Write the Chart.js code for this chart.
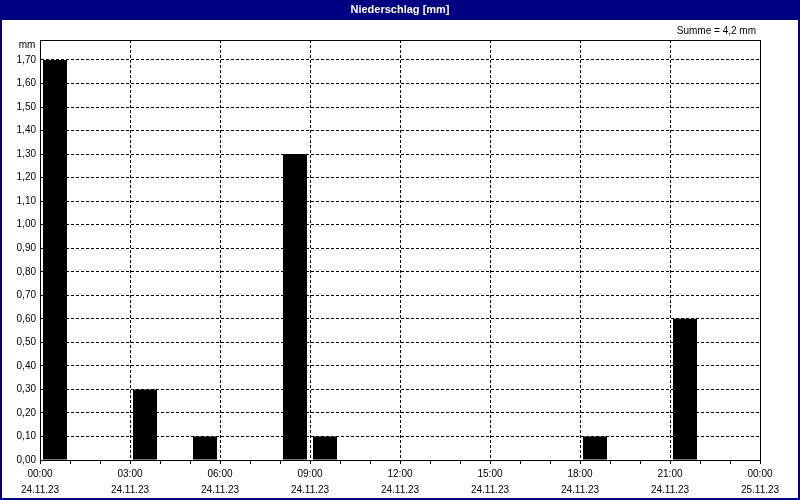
<!DOCTYPE html>
<html>
<head>
<meta charset="utf-8">
<script src="https://cdn.jsdelivr.net/npm/chart.js@4"></script>
<style>
  html, body { margin: 0; padding: 0; background: #fff; }
  #wrap { width: 800px; height: 500px; position: relative; }
</style>
</head>
<body>
<div id="wrap"><canvas id="rain" width="800" height="500"></canvas></div>
<script>
// hourly precipitation, 24.11.23 00:00 .. 25.11.23 00:00
const hours = [0, 1, 2, 3, 4, 5, 6, 7, 8, 9, 10, 11, 12, 13, 14, 15, 16, 17, 18, 19, 20, 21, 22, 23];
const rainMm = [1.7, 0, 0, 0.3, 0, 0.1, 0, 0, 1.3, 0.1, 0, 0, 0, 0, 0, 0, 0, 0, 0.1, 0, 0, 0.6, 0, 0];
const yTicks = [0, 0.1, 0.2, 0.3, 0.4, 0.5, 0.6, 0.7, 0.8, 0.9, 1.0, 1.1, 1.2, 1.3, 1.4, 1.5, 1.6, 1.7];
const xTimeLabels = ['00:00', '03:00', '06:00', '09:00', '12:00', '15:00', '18:00', '21:00', '00:00'];
const xDateLabels = ['24.11.23', '24.11.23', '24.11.23', '24.11.23', '24.11.23', '24.11.23', '24.11.23', '24.11.23', '25.11.23'];
const titleText = 'Niederschlag [mm]';
const unitText = 'mm';
const sumText = 'Summe = 4,2 mm';

const navy = '#000080';
const font = 'Liberation Sans, Arial, sans-serif';

// frame, title band, unit + sum text
const decorations = {
  id: 'decorations',
  beforeDraw(chart) {
    const ctx = chart.ctx;
    ctx.save();
    ctx.fillStyle = '#fff';
    ctx.fillRect(0, 0, chart.width, chart.height);
    ctx.restore();
  },
  afterDraw(chart) {
    const ctx = chart.ctx;
    const a = chart.chartArea;
    ctx.save();
    // navy outer border + title band
    ctx.fillStyle = navy;
    ctx.fillRect(0, 0, chart.width, 20);
    ctx.fillRect(0, 0, 2, chart.height);
    ctx.fillRect(chart.width - 2, 0, 2, chart.height);
    ctx.fillRect(0, chart.height - 2, chart.width, 2);
    ctx.fillStyle = '#fff';
    ctx.font = 'bold 11px ' + font;
    ctx.textAlign = 'center';
    ctx.textBaseline = 'middle';
    ctx.fillText(titleText, chart.width / 2, 10);

    // plot frame
    ctx.strokeStyle = '#000';
    ctx.lineWidth = 1;
    ctx.setLineDash([]);
    ctx.strokeRect(Math.round(a.left) + 0.5, Math.round(a.top) + 0.5,
      Math.round(a.right - a.left), Math.round(a.bottom - a.top));

    ctx.fillStyle = '#000';
    ctx.font = '10px ' + font;
    ctx.textAlign = 'center';
    ctx.fillText(unitText, 27, 45);
    ctx.textAlign = 'right';
    ctx.fillText(sumText, 756, 31);
    ctx.restore();
  }
};

new Chart(document.getElementById('rain'), {
  type: 'bar',
  data: {
    datasets: [{
      data: hours.map((h, i) => ({ x: h + 0.5, y: rainMm[i] })),
      backgroundColor: '#000',
      borderWidth: 0,
      barPercentage: 0.8,
      categoryPercentage: 1
    }]
  },
  options: {
    responsive: false,
    animation: false,
    layout: { padding: { left: 2, top: 40, right: 40, bottom: 0 } },
    plugins: {
      legend: { display: false },
      tooltip: { enabled: false }
    },
    scales: {
      x: {
        type: 'linear',
        min: 0,
        max: 24,
        offset: false,
        afterBuildTicks(scale) {
          scale.ticks = [];
          for (let h = 0; h <= 24; h++) scale.ticks.push({ value: h });
        },
        afterFit(scale) { scale.height = 40; },
        grid: {
          offset: false,
          color: c => (c.tick && c.tick.value % 3 === 0 && c.tick.value > 0 && c.tick.value < 24) ? '#000' : 'rgba(0,0,0,0)',
          tickColor: '#000',
          tickLength: 4,
          lineWidth: 1
        },
        border: { display: true, color: '#000', width: 1, dash: [3, 2] },
        ticks: {
          autoSkip: false,
          maxRotation: 0,
          padding: 2,
          color: '#000',
          font: { family: font, size: 10, lineHeight: 1.6 },
          callback: v => v % 3 === 0 ? [xTimeLabels[v / 3], xDateLabels[v / 3]] : ''
        }
      },
      y: {
        min: 0,
        max: 1.785,
        afterBuildTicks(scale) {
          scale.ticks = yTicks.map(v => ({ value: v }));
        },
        afterFit(scale) { scale.width = 38; },
        grid: {
          color: c => (c.tick && c.tick.value > 0) ? '#000' : 'rgba(0,0,0,0)',
          drawTicks: false,
          lineWidth: 1
        },
        border: { display: true, color: '#000', width: 1, dash: [3, 2] },
        ticks: {
          padding: 4,
          color: '#000',
          font: { family: font, size: 10 },
          callback: v => v.toFixed(2).replace('.', ',')
        }
      }
    }
  },
  plugins: [decorations]
});
</script>
</body>
</html>
